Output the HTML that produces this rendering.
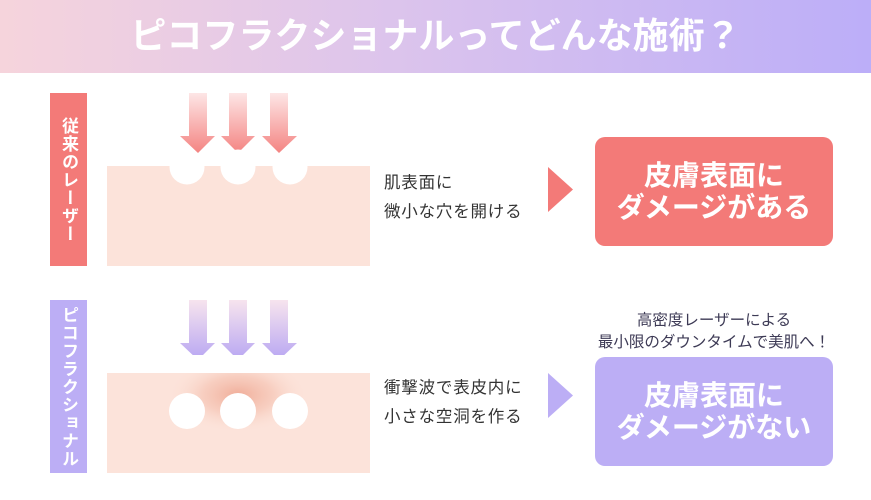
<!DOCTYPE html>
<html><head><meta charset="utf-8"><style>
body{margin:0;width:871px;height:500px;background:#fff;position:relative;overflow:hidden;font-family:"Liberation Sans","Noto Sans CJK JP",sans-serif;}
.hdr{position:absolute;left:0;top:0;width:871px;height:73px;background:linear-gradient(90deg,#f6d4dc,#dcc4ec 45%,#bcaef8);}
.hdr div{position:absolute;left:0;right:0;top:11px;text-align:center;color:#fff;font-weight:bold;font-size:36px;line-height:50px;}
.bar{position:absolute;left:50px;width:37px;height:173px;color:#fff;font-weight:bold;font-size:17px;writing-mode:vertical-rl;text-align:center;line-height:37px;letter-spacing:1px;}
.mid{position:absolute;left:384px;font-size:16.5px;color:#333;line-height:29px;letter-spacing:0.8px;}
.box{position:absolute;left:595px;width:238px;height:109px;border-radius:10px;color:#fff;font-weight:bold;font-size:28px;line-height:32px;text-align:center;display:flex;align-items:center;justify-content:center;}
</style></head><body>
<div class="hdr"><div>ピコフラクショナルってどんな施術？</div></div>

<div class="bar" style="top:93px;background:#f37a78;">従来のレーザー</div>
<div class="bar" style="top:300px;background:#bcaef5;">ピコフラクショナル</div>

<svg width="871" height="500" style="position:absolute;left:0;top:0">
<defs>
<linearGradient id="ra" x1="0" y1="0" x2="0" y2="1"><stop offset="0" stop-color="#fde6e6"/><stop offset="1" stop-color="#f48482"/></linearGradient>
<linearGradient id="pa" x1="0" y1="0" x2="0" y2="1"><stop offset="0" stop-color="#f7e4ee"/><stop offset="1" stop-color="#b8a6f2"/></linearGradient>
<radialGradient id="gl" cx="0.5" cy="0.5" r="0.5"><stop offset="0" stop-color="#eea48e" stop-opacity="0.85"/><stop offset="0.5" stop-color="#f3b9a6" stop-opacity="0.5"/><stop offset="1" stop-color="#fce3da" stop-opacity="0"/></radialGradient>
</defs>
<g fill="url(#ra)">
<polygon points="189,93 207,93 207,136 215,136 198,153 180,136 189,136"/>
<polygon points="229,93 247,93 247,136 255,136 238,153 221,136 229,136"/>
<polygon points="270,93 288,93 288,136 297,136 279,153 262,136 270,136"/>
</g>
<g fill="url(#pa)">
<polygon points="189,300 207,300 207,343 215,343 198,360 180,343 189,343"/>
<polygon points="229,300 247,300 247,343 255,343 238,360 221,343 229,343"/>
<polygon points="270,300 288,300 288,343 297,343 279,360 262,343 270,343"/>
</g>
<rect x="107" y="166" width="263" height="100" fill="#fce3da"/>
<rect x="107" y="373" width="263" height="100" fill="#fce3da"/>
<ellipse cx="238" cy="395" rx="70" ry="38" fill="url(#gl)"/>
<rect x="107" y="355" width="263" height="18" fill="#fff"/>
<g fill="#fff">
<circle cx="187" cy="167" r="17.5"/><circle cx="238" cy="167" r="17.5"/><circle cx="290" cy="167" r="17.5"/>
<circle cx="187" cy="411" r="18"/><circle cx="238" cy="411" r="18"/><circle cx="290" cy="411" r="18"/>
</g>
<polygon points="548,167 573,189.5 548,212" fill="#f37a78"/>
<polygon points="548,373 573,395.5 548,418" fill="#bcaef5"/>
</svg>

<div class="mid" style="top:169px;">肌表面に<br>微小な穴を開ける</div>
<div class="mid" style="top:374px;">衝撃波で表皮内に<br>小さな空洞を作る</div>

<div class="box" style="top:137px;background:#f37a78;">皮膚表面に<br>ダメージがある</div>
<div style="position:absolute;left:570px;width:288px;top:310px;text-align:center;font-size:15.5px;line-height:22px;color:#3d3a55;">高密度レーザーによる<br>最小限のダウンタイムで美肌へ！</div>
<div class="box" style="top:357px;background:#bcaef5;">皮膚表面に<br>ダメージがない</div>
</body></html>
